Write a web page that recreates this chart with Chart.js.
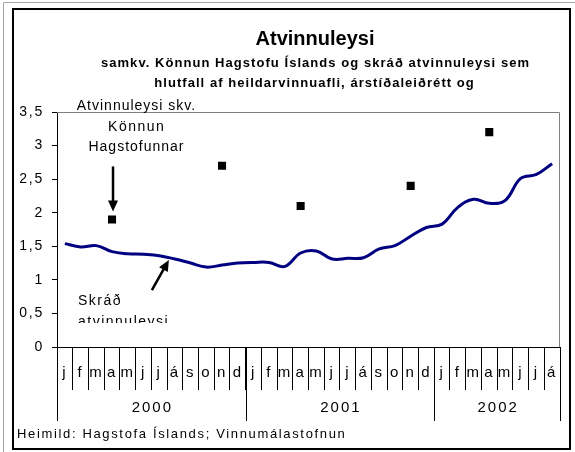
<!DOCTYPE html>
<html>
<head>
<meta charset="utf-8">
<script src="https://cdn.jsdelivr.net/npm/chart.js@4/dist/chart.umd.min.js"></script>
<style>
  html, body { margin: 0; padding: 0; background: #fff; }
  canvas { display: block; }
</style>
</head>
<body>
<canvas id="chart" width="575" height="452"></canvas>
<script>
// months Jan 2000 - Aug 2002
const months = [
  'j','f','m','a','m','j','j','á','s','o','n','d',
  'j','f','m','a','m','j','j','á','s','o','n','d',
  'j','f','m','a','m','j','j','á'
];
const years = ['2000', '2001', '2002'];
const monthsPerYear = [12, 12, 8];

// skráð atvinnuleysi (seasonally adjusted, %)
const registered = [
  1.54, 1.49, 1.51, 1.42, 1.39, 1.38, 1.36, 1.31, 1.25, 1.19, 1.22, 1.25,
  1.26, 1.26, 1.20, 1.40, 1.43, 1.31, 1.32, 1.33, 1.46, 1.51, 1.65, 1.78,
  1.83, 2.08, 2.20, 2.14, 2.18, 2.51, 2.57, 2.73
];
// atvinnuleysi skv. könnun Hagstofunnar (April / November)
const survey = [
  null, null, null, 1.9, null, null, null, null, null, null, 2.7, null,
  null, null, null, 2.1, null, null, null, null, null, null, 2.4, null,
  null, null, null, 3.2, null, null, null, null
];

const titleText = 'Atvinnuleysi';
const subtitleLines = [
  'samkv. Könnun Hagstofu Íslands og skráð atvinnuleysi sem',
  'hlutfall af heildarvinnuafli, árstíðaleiðrétt og'
];
const surveyLabel = ['Atvinnuleysi skv.', 'Könnun', 'Hagstofunnar'];
const registeredLabel = ['Skráð', 'atvinnuleysi'];
const sourceText = 'Heimild: Hagstofa Íslands; Vinnumálastofnun';

const FONT = '"Liberation Sans", Arial, sans-serif';

function text(ctx, s, x, y, size, bold, align, spacing) {
  ctx.font = (bold ? 'bold ' : '') + size + 'px ' + FONT;
  ctx.letterSpacing = spacing + 'px';
  ctx.textAlign = align;
  ctx.textBaseline = 'middle';
  ctx.fillStyle = '#000';
  // compensate trailing letter spacing when centred
  const dx = align === 'center' ? spacing / 2 : 0;
  ctx.fillText(s, x + dx, y);
}

function arrow(ctx, x1, y1, x2, y2) {
  const a = Math.atan2(y2 - y1, x2 - x1);
  const head = 11, w = 5;
  ctx.strokeStyle = '#000';
  ctx.fillStyle = '#000';
  ctx.lineWidth = 2.5;
  ctx.beginPath();
  ctx.moveTo(x1, y1);
  ctx.lineTo(x2 - Math.cos(a) * head * 0.8, y2 - Math.sin(a) * head * 0.8);
  ctx.stroke();
  ctx.beginPath();
  ctx.moveTo(x2, y2);
  ctx.lineTo(x2 - head * Math.cos(a) + w * Math.sin(a), y2 - head * Math.sin(a) - w * Math.cos(a));
  ctx.lineTo(x2 - head * Math.cos(a) - w * Math.sin(a), y2 - head * Math.sin(a) + w * Math.cos(a));
  ctx.closePath();
  ctx.fill();
}

const decor = {
  id: 'decor',
  beforeDraw(chart) {
    const ctx = chart.ctx;
    ctx.save();
    ctx.fillStyle = '#fff';
    ctx.fillRect(0, 0, chart.width, chart.height);
    ctx.strokeStyle = '#a6a6a6';
    ctx.lineWidth = 1;
    ctx.beginPath();
    ctx.moveTo(3.5, chart.height);
    ctx.lineTo(3.5, 2.5);
    ctx.lineTo(chart.width, 2.5);
    ctx.stroke();
    ctx.strokeStyle = '#000';
    ctx.lineWidth = 2;
    ctx.strokeRect(13, 9, 557, 440);
    ctx.restore();
    ctx.letterSpacing = '1.8px';
  },
  beforeDatasetsDraw(chart) {
    const ctx = chart.ctx, a = chart.chartArea;
    ctx.save();
    ctx.strokeStyle = '#808080';
    ctx.lineWidth = 1;
    ctx.beginPath();
    ctx.moveTo(a.left, a.top + 0.5);
    ctx.lineTo(a.right - 0.5, a.top + 0.5);
    ctx.lineTo(a.right - 0.5, a.bottom);
    ctx.stroke();
    ctx.restore();
  },
  afterDatasetsDraw(chart) {
    const ctx = chart.ctx;
    const xs = chart.scales.x, ys = chart.scales.y;
    ctx.save();
    // survey label + arrow to April 2000 point
    text(ctx, surveyLabel[0], 136, 106, 14, false, 'center', 1);
    text(ctx, surveyLabel[1], 136, 127, 14, false, 'center', 1.5);
    text(ctx, surveyLabel[2], 136, 147, 14, false, 'center', 1);
    const px = xs.getPixelForValue(3), py = ys.getPixelForValue(survey[3]);
    arrow(ctx, px + 1, py - 53, px + 1, py - 8);
    // registered label + arrow to the line
    text(ctx, registeredLabel[0], 78, 301, 14, false, 'left', 1.5);
    ctx.save();
    ctx.beginPath();
    ctx.rect(60, 310, 200, 13);
    ctx.clip();
    text(ctx, registeredLabel[1], 78, 322, 14, false, 'left', 1.5);
    ctx.restore();
    const lx = xs.getPixelForValue(7), ly = ys.getPixelForValue(registered[7]);
    arrow(ctx, lx - 23, ly + 31, lx - 6, ly + 1);
    ctx.restore();
  },
  afterDraw(chart) {
    const ctx = chart.ctx, a = chart.chartArea;
    const xs = chart.scales.x;
    ctx.save();
    text(ctx, titleText, 315, 39, 20, true, 'center', 0);
    text(ctx, subtitleLines[0], 315, 63, 13, true, 'center', 1.05);
    text(ctx, subtitleLines[1], 314, 83, 13, true, 'center', 1.05);
    // year separators and labels
    const half = (xs.getPixelForValue(1) - xs.getPixelForValue(0)) / 2;
    ctx.strokeStyle = '#000';
    ctx.lineWidth = 1;
    let idx = 0;
    const edges = [xs.getPixelForValue(0) - half];
    monthsPerYear.forEach(n => {
      idx += n;
      edges.push(xs.getPixelForValue(idx - 1) + half);
    });
    edges.forEach(x => {
      ctx.beginPath();
      ctx.moveTo(Math.round(x) + 0.5, a.bottom);
      ctx.lineTo(Math.round(x) + 0.5, 421);
      ctx.stroke();
    });
    years.forEach((y, i) => {
      text(ctx, y, (edges[i] + edges[i + 1]) / 2, 408, 15, false, 'center', 2);
    });
    text(ctx, sourceText, 17, 434, 13, false, 'left', 1.65);
    ctx.restore();
  }
};

new Chart(document.getElementById('chart'), {
  type: 'line',
  data: {
    labels: months,
    datasets: [
      {
        label: 'Skráð atvinnuleysi',
        data: registered,
        borderColor: '#000080',
        borderWidth: 3,
        pointRadius: 0,
        tension: 0.4,
        fill: false
      },
      {
        label: 'Atvinnuleysi skv. Könnun Hagstofunnar',
        data: survey,
        showLine: false,
        pointStyle: 'rect',
        pointRadius: 5.7,
        pointBackgroundColor: '#000',
        pointBorderColor: '#000',
        pointBorderWidth: 0
      }
    ]
  },
  options: {
    responsive: false,
    animation: false,
    devicePixelRatio: 1,
    layout: { padding: { left: 0, right: 15, top: 112, bottom: 0 } },
    plugins: {
      legend: { display: false },
      title: { display: false },
      tooltip: { enabled: false }
    },
    scales: {
      x: {
        offset: true,
        afterFit(scale) { scale.height = 105; },
        border: { color: '#000', width: 1 },
        grid: {
          offset: true,
          drawOnChartArea: false,
          tickLength: 43,
          color: '#000'
        },
        ticks: {
          autoSkip: false,
          maxRotation: 0,
          padding: -26,
          color: '#000',
          font: { family: FONT, size: 15 }
        }
      },
      y: {
        min: 0,
        max: 3.5,
        afterFit(scale) { scale.width = 57; },
        border: { color: '#000', width: 1 },
        grid: {
          drawOnChartArea: false,
          tickLength: 5,
          color: '#000'
        },
        ticks: {
          stepSize: 0.5,
          padding: 8,
          color: '#000',
          font: { family: FONT, size: 14 },
          callback: v => String(v).replace('.', ',')
        }
      }
    }
  },
  plugins: [decor]
});
</script>
</body>
</html>
